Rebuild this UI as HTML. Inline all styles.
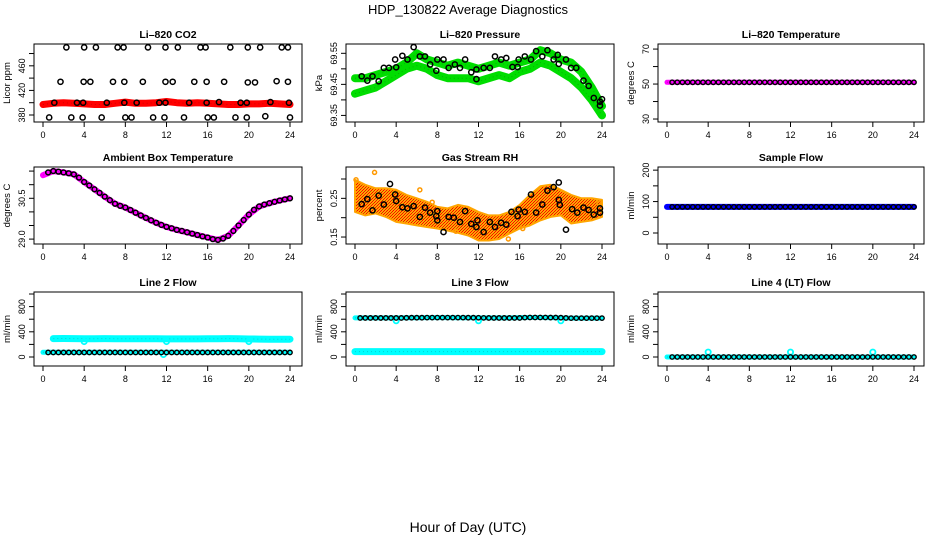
<!DOCTYPE html>
<html><head><meta charset="utf-8"><style>
html,body{margin:0;padding:0;background:#fff;}
svg{display:block;font-family:"Liberation Sans",sans-serif;}
</style></head><body>
<svg id="chart" width="936" height="540" viewBox="0 0 936 540" xmlns="http://www.w3.org/2000/svg">
<defs>
<pattern id="rhpat" width="3" height="3" patternUnits="userSpaceOnUse">
<rect width="3" height="3" fill="#ffa500"/><rect x="0" y="0" width="1" height="1" fill="#ff0000"/><rect x="2" y="1" width="1" height="1" fill="#ff0000"/><rect x="1" y="2" width="1" height="1" fill="#cc3300"/>
</pattern>
</defs>
<text x="468" y="14" text-anchor="middle" font-size="13">HDP_130822  Average Diagnostics</text>
<text x="468" y="532" text-anchor="middle" font-size="14">Hour of Day (UTC)</text>
</svg>
<script>
// ---------- data ----------
const hours = [0,1,2,3,4,5,6,7,8,9,10,11,12,13,14,15,16,17,18,19,20,21,22,23,24];
const halfHours = [0.5,1,1.5,2,2.5,3,3.5,4,4.5,5,5.5,6,6.5,7,7.5,8,8.5,9,9.5,10,10.5,11,11.5,12,12.5,13,13.5,14,14.5,15,15.5,16,16.5,17,17.5,18,18.5,19,19.5,20,20.5,21,21.5,22,22.5,23,23.5,24];
const xTicks = [0,4,8,12,16,20,24];

// CO2
const co2Band = [397,399,400,399,398,397,397,399,401,399,399,400,402,400,399,400,399,398,397,397,398,398,399,398,397];
const co2Hours = [2.27,4.0,5.14,7.25,7.83,10.2,11.9,13.1,15.3,15.8,18.2,19.9,21.1,23.2,23.8, 1.7,3.95,4.6,6.8,7.9,9.7,11.9,12.6,14.7,15.9,17.6,19.9,20.6,22.7,23.8, 1.1,3.3,3.9,6.2,7.9,9.1,11.3,11.9,14.2,15.9,17.1,19.2,19.8,22.1,23.9, 0.6,2.75,3.85,5.7,8.0,8.6,10.7,11.8,13.7,16.0,16.6,18.7,19.8,21.6,24.0];
const co2Vals = [490,490,490,490,490,490,490,490,490,490,490,490,490,490,490, 434,434,434,434,434,434,434,434,434,434,434,433,433,435,434, 400,400,400,400,400,400,400,400,400,400,401,400,400,401,400, 376,376,376,376,376,376,376,376,376,376,376,376,376,378,376];

// Pressure
const presUpper = [69.47,69.47,69.48,69.49,69.50,69.52,69.55,69.53,69.52,69.51,69.52,69.51,69.50,69.51,69.52,69.51,69.52,69.53,69.56,69.55,69.53,69.52,69.49,69.44,69.38];
const presLower = [69.42,69.43,69.44,69.46,69.48,69.50,69.51,69.50,69.48,69.47,69.47,69.47,69.46,69.47,69.48,69.47,69.49,69.50,69.52,69.51,69.49,69.47,69.44,69.40,69.35];
const presHours = [0.65,1.2,1.7,2.3,2.8,3.3,3.9,4.0,4.6,5.1,5.7,6.3,6.8,7.3,7.9,8.0,8.6,9.1,9.7,10.2,10.7,11.3,11.8,11.8,12.5,13.1,13.6,14.2,14.7,15.3,15.8,15.9,16.5,17.1,17.6,18.2,18.7,19.3,19.7,19.8,20.5,21.0,21.5,22.2,22.7,23.2,23.8,23.8,24];
const presVals = [69.476,69.462,69.476,69.46,69.503,69.503,69.53,69.505,69.542,69.53,69.57,69.54,69.54,69.514,69.494,69.53,69.53,69.503,69.514,69.503,69.53,69.489,69.467,69.498,69.503,69.503,69.54,69.53,69.535,69.506,69.506,69.53,69.54,69.53,69.557,69.54,69.56,69.53,69.545,69.516,69.53,69.503,69.503,69.462,69.445,69.406,69.394,69.382,69.402];

// Li-820 temperature
const tempBand = [51,51,51,51,51,51,51,51,51,51,51,51,51,51,51,51,51,51,51,51,51,51,51,51,51];
const tempVals = [51,51,51,51,51,51,51,51,51,51,51,51,51,51,51,51,51,51,51,51,51,51,51,51,51,51,51,51,51,51,51,51,51,51,51,51,51,51,51,51,51,51,51,51,51,51,51,51];

// Ambient box temperature
const ambBand = [31.35,31.5,31.45,31.38,31.1,30.83,30.56,30.3,30.16,29.97,29.78,29.6,29.45,29.34,29.25,29.15,29.06,28.97,29.12,29.5,29.9,30.2,30.32,30.42,30.5];
const ambVals = [31.45,31.5,31.48,31.45,31.42,31.38,31.26,31.1,30.97,30.83,30.7,30.56,30.43,30.3,30.22,30.16,30.07,29.97,29.87,29.78,29.69,29.6,29.52,29.45,29.4,29.34,29.3,29.25,29.2,29.15,29.1,29.06,29.0,28.97,29.02,29.12,29.3,29.5,29.7,29.9,30.08,30.2,30.27,30.32,30.37,30.42,30.46,30.5];

// Gas stream RH
const rhUpper = [0.298,0.285,0.276,0.276,0.272,0.259,0.250,0.241,0.228,0.224,0.233,0.228,0.215,0.206,0.206,0.215,0.233,0.259,0.281,0.285,0.272,0.259,0.250,0.250,0.246];
const rhLower = [0.215,0.206,0.211,0.202,0.189,0.185,0.180,0.176,0.172,0.167,0.161,0.154,0.141,0.141,0.145,0.159,0.172,0.180,0.193,0.202,0.206,0.185,0.189,0.193,0.202];
const rhHours = [0.65,1.2,1.7,2.3,2.8,3.4,3.9,4.0,4.6,5.1,5.7,6.3,6.8,7.3,7.9,8.0,8.0,8.6,9.1,9.6,10.2,10.7,11.3,11.8,11.9,12.5,13.1,13.6,14.2,14.7,15.2,15.8,15.9,16.5,17.1,17.6,18.2,18.7,19.3,19.8,19.8,19.9,20.5,21.1,21.6,22.2,22.7,23.2,23.8,23.8];
const rhVals = [0.235,0.248,0.219,0.257,0.234,0.287,0.26,0.243,0.227,0.224,0.23,0.202,0.226,0.213,0.204,0.217,0.193,0.163,0.202,0.2,0.189,0.217,0.184,0.176,0.193,0.163,0.189,0.176,0.187,0.182,0.215,0.204,0.221,0.215,0.26,0.213,0.234,0.27,0.279,0.291,0.246,0.233,0.169,0.222,0.213,0.226,0.22,0.208,0.224,0.213];
const rhOutHours = [0.1,1.9,6.3,7.5,9.8,14.9,16.3,23.7];
const rhOutVals = [0.298,0.317,0.272,0.24,0.165,0.145,0.172,0.237];

// Sample flow
const sampBand = [83,83,83,83,83,83,83,83,83,83,83,83,83,83,83,83,83,83,83,83,83,83,83,83,83];
const sampVals = [83,83,83,83,83,83,83,83,83,83,83,83,83,83,83,83,83,83,83,83,83,83,83,83,83,83,83,83,83,83,83,83,83,83,83,83,83,83,83,83,83,83,83,83,83,83,83,83];

// Line 2 flow
const l2Upper = [290,292,293,292,290,291,292,291,291,290,290,289,288,288,287,287,290,291,292,290,285,284,283,283,283];
const l2Lower = [75,75,75,75,75,75,75,75,75,75,75,75,75,75,75,75,75,75,75,75,75,75,75,75,75];
const l2Vals = [72,72,72,72,72,72,72,72,72,72,72,72,72,72,72,72,72,72,72,72,72,72,72,72,72,72,72,72,72,72,72,72,72,72,72,72,72,72,72,72,72,72,72,72,72,72,72,72];
const l2DipHours = [4,12,20,11.7];
const l2DipVals = [245,245,245,40];

// Line 3 flow
const l3Upper = [620,620,620,620,620,622,624,625,625,625,624,623,620,620,620,620,625,627,627,626,620,617,617,617,617];
const l3Lower = [85,85,85,85,85,85,85,85,85,85,85,85,85,85,85,85,85,85,85,85,85,85,85,85,85];
const l3Vals = [620,620,620,620,620,620,620,620,620,622,624,624,624,625,625,625,625,625,625,625,625,624,624,623,621,620,620,620,620,620,620,620,625,627,627,627,627,626,626,624,620,617,617,617,617,617,617,617];
const l3DipHours = [4,12,20];
const l3DipVals = [575,575,575];

// Line 4 flow
const l4Band = [0,0,0,0,0,0,0,0,0,0,0,0,0,0,0,0,0,0,0,0,0,0,0,0,0];
const l4Vals = [0,0,0,0,0,0,0,0,0,0,0,0,0,0,0,0,0,0,0,0,0,0,0,0,0,0,0,0,0,0,0,0,0,0,0,0,0,0,0,0,0,0,0,0,0,0,0,0];
const l4SpikeHours = [4,12,20];
const l4SpikeVals = [78,78,78];

// ---------- drawing ----------
const NS = 'http://www.w3.org/2000/svg';
const svg = document.getElementById('chart');
function mk(tag, attrs, parent){ const e=document.createElementNS(NS,tag); for(const k in attrs) e.setAttribute(k,attrs[k]); (parent||svg).appendChild(e); return e; }

const colLeft=[34,346,658], colW=[268,268,266];
const rowTop=[44,167,292], rowH=[78,77,74];

function makePanel(col,row,title,ylab,ymin,ymax,yticks,ylabels,name){
  const L=colLeft[col], T=rowTop[row], W=colW[col], H=rowH[row];
  const g=mk('g',{});
  
  
  const xs=h=>L+9+h*(247/24);
  const ys=v=>T+H-(v-ymin)/(ymax-ymin)*H;
  const t=mk('text',{x:L+W/2,y:T-6,'text-anchor':'middle','font-size':'10.5','font-weight':'bold'},g); t.textContent=title;
  
  
  const data=mk('g',{},g);
  
  
  // box
  const box=mk('rect',{x:L,y:T,width:W,height:H,fill:'none',stroke:'#000','stroke-width':1},g);
  
  
  // x axis
  const xa=mk('g',{stroke:'#000','stroke-width':1},g);
  
  
  mk('line',{x1:xs(xTicks[0]),x2:xs(xTicks[xTicks.length-1]),y1:T+H,y2:T+H},xa);
  xTicks.forEach(v=>{
    mk('line',{x1:xs(v),x2:xs(v),y1:T+H,y2:T+H+5},xa);
    const tl=mk('text',{x:xs(v),y:T+H+16,'text-anchor':'middle','font-size':'9',stroke:'none'},xa); tl.textContent=v;
  });
  // y axis
  const ya=mk('g',{stroke:'#000','stroke-width':1},g);
  
  
  mk('line',{x1:L,x2:L,y1:ys(yticks[0]),y2:ys(yticks[yticks.length-1])},ya);
  yticks.forEach(v=>mk('line',{x1:L-5,x2:L,y1:ys(v),y2:ys(v)},ya));
  ylabels.forEach(v=>{
    const tl=mk('text',{x:0,y:0,'text-anchor':'middle','font-size':'9',stroke:'none',transform:`translate(${L-9},${ys(v)}) rotate(-90)`},ya); tl.textContent=v;
  });
  const yl=mk('text',{x:0,y:0,'text-anchor':'middle','font-size':'9.5',transform:`translate(${L-24},${T+H/2}) rotate(-90)`},g); yl.textContent=ylab;
  
  
  return {xs,ys,data,name};
}
function band(p,hs,vs,color,w,label){
  const pts=hs.map((h,i)=>p.xs(h).toFixed(1)+','+p.ys(vs[i]).toFixed(1)).join(' ');
  const e=mk('polyline',{points:pts,fill:'none',stroke:color,'stroke-width':w,'stroke-linejoin':'round','stroke-linecap':'round'},p.data);
  
  
  // stipple dots for texture
  const e2=mk('polyline',{points:pts,fill:'none',stroke:'#000','stroke-opacity':0.18,'stroke-width':1,'stroke-dasharray':'1 3'},p.data);
  
  
}
function circles(p,hs,vs,color,r,sw,label){
  hs.forEach((h,i)=>{
    const c=mk('circle',{cx:p.xs(h),cy:p.ys(vs[i]),r:r,fill:'none',stroke:color,'stroke-width':sw},p.data);
    
    
  });
}

// Panel 1 CO2
let p=makePanel(0,0,'Li\u2013820 CO2','Licor ppm',368.6,495.5,[380,400,420,440,460,480],[380,420,460],'co2');
band(p,hours,co2Band,'#ff0000',7,'co2-band');
circles(p,co2Hours,co2Vals,'#000',2.6,1.5,'co2-point');

// Panel 2 Pressure
p=makePanel(1,0,'Li\u2013820 Pressure','kPa',69.3288,69.58,[69.35,69.40,69.45,69.50,69.55],['69.35','69.45','69.55'],'pressure');
band(p,hours,presUpper,'#00dd00',8,'pressure-band-upper');
band(p,hours,presLower,'#00dd00',8,'pressure-band-lower');
circles(p,presHours,presVals,'#000',2.6,1.5,'pressure-point');

// Panel 3 Temperature
p=makePanel(2,0,'Li\u2013820 Temperature','degrees C',28.3,72.9,[30,40,50,60,70],[30,50,70],'li820-temp');
band(p,hours,tempBand,'#ff00ff',5,'temp-band');
circles(p,halfHours,tempVals,'#000',2.2,1.4,'temp-point');

// Panel 4 Ambient
p=makePanel(0,1,'Ambient Box Temperature','degrees C',28.82,31.65,[29,29.5,30,30.5,31,31.5],['29.0','30.5'],'ambient-temp');
band(p,hours,ambBand,'#ff00ff',6,'ambient-band');
circles(p,halfHours,ambVals,'#000',2.4,1.5,'ambient-point');

// Panel 5 RH
p=makePanel(1,1,'Gas Stream RH','percent',0.132,0.331,[0.15,0.20,0.25,0.30],['0.15','0.25'],'gas-rh');
{
  const up=hours.map((h,i)=>p.xs(h).toFixed(1)+','+p.ys(rhUpper[i]).toFixed(1));
  const lo=hours.slice().reverse().map((h,j)=>{const i=hours.length-1-j; return p.xs(h).toFixed(1)+','+p.ys(rhLower[i]).toFixed(1);});
  const poly=mk('polygon',{points:up.concat(lo).join(' '),fill:'url(#rhpat)',stroke:'#ffa500','stroke-width':2,'stroke-linejoin':'round'},p.data);
  
  
}
circles(p,rhOutHours,rhOutVals,'#ff9900',2,1.5,'rh-outlier');
circles(p,rhHours,rhVals,'#000',2.6,1.5,'rh-point');

// Panel 6 Sample flow
p=makePanel(2,1,'Sample Flow','ml/min',-35,210,[0,50,100,150,200],[0,100,200],'sample-flow');
band(p,hours,sampBand,'#0000ff',6,'sample-band');
circles(p,halfHours,sampVals,'#000',2.2,1.4,'sample-point');

// Panel 7 Line 2
p=makePanel(0,2,'Line 2 Flow','ml/min',-143,1032,[0,200,400,600,800,1000],[0,400,800],'line2-flow');
band(p,hours.slice(1),l2Upper.slice(1),'#00ffff',7,'line2-upper');
band(p,hours,l2Lower,'#00ffff',5,'line2-lower');
circles(p,l2DipHours,l2DipVals,'#00ffff',2.6,1.8,'line2-dip');
circles(p,halfHours,l2Vals,'#000',2.2,1.4,'line2-point');

// Panel 8 Line 3
p=makePanel(1,2,'Line 3 Flow','ml/min',-143,1032,[0,200,400,600,800,1000],[0,400,800],'line3-flow');
band(p,hours,l3Upper,'#00ffff',5,'line3-upper');
band(p,hours,l3Lower,'#00ffff',7,'line3-lower');
circles(p,l3DipHours,l3DipVals,'#00ffff',2.6,1.8,'line3-dip');
circles(p,halfHours,l3Vals,'#000',2.2,1.4,'line3-point');

// Panel 9 Line 4
p=makePanel(2,2,'Line 4 (LT) Flow','ml/min',-143,1032,[0,200,400,600,800,1000],[0,400,800],'line4-flow');
band(p,hours,l4Band,'#00ffff',5,'line4-band');
circles(p,l4SpikeHours,l4SpikeVals,'#00ffff',2.6,1.8,'line4-spike');
circles(p,halfHours,l4Vals,'#000',2.2,1.4,'line4-point');
</script>
</body></html>
